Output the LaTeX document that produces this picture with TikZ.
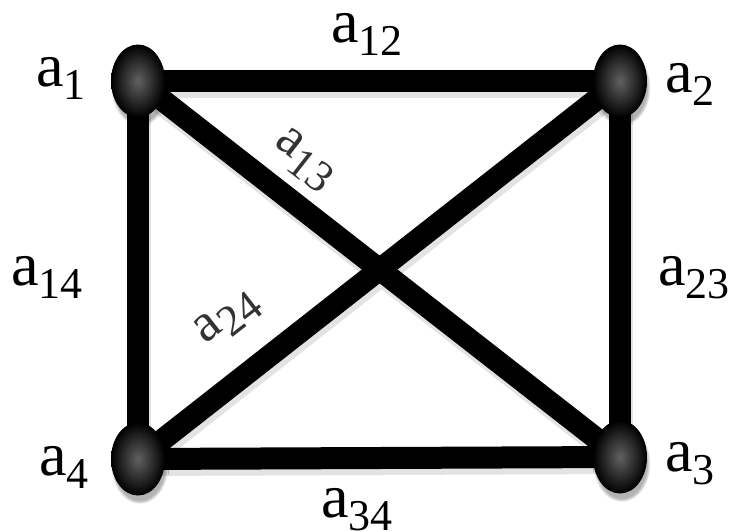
\documentclass[tikz,border=0pt]{standalone}
\usepackage{fontspec}
\setmainfont{Liberation Serif}
\usetikzlibrary{shapes.geometric, shadows.blur, backgrounds}
\tikzset{
  ballnode/.style={ellipse, minimum width=54pt, minimum height=73pt, inner sep=0pt,
    inner color=black!62, outer color=black,
    blur shadow={shadow xshift=2pt, shadow yshift=-7pt, shadow opacity=30}},
  edge/.style={line width=22pt, black},
  edgeshadow/.style={line width=22pt, gray!22, transform canvas={shift={(2pt,-6pt)}}},
  lab/.style={anchor=base west, inner sep=0pt, font=\fontsize{62}{66}\selectfont}
}
\newcommand{\sublab}[1]{a\raisebox{-0.22em}{\fontsize{44}{48}\selectfont #1}}
\begin{document}
\begin{tikzpicture}[x=1pt, y=-1pt]
  \useasboundingbox (0,0) rectangle (731,531);
  % vertices
  \foreach \n/\x/\y in {a1/138/81, a2/620/81, a3/620/457, a4/138/459}
    {\node[ballnode] (\n) at (\x,\y) {};}
  % edges behind the balls
  \begin{scope}[on background layer]
    \foreach \s/\t in {a1/a2, a2/a3, a3/a4, a4/a1, a1/a3, a2/a4}
      {\draw[edgeshadow] (\s.center) -- (\t.center);}
    \foreach \s/\t in {a1/a2, a2/a3, a3/a4, a4/a1, a1/a3, a2/a4}
      {\draw[edge] (\s.center) -- (\t.center);}
  \end{scope}
  % vertex labels
  \node[lab] (l1) at (36,86) {\sublab{1}};
  \node[lab] (l2) at (665,92) {\sublab{2}};
  \node[lab] (l3) at (665,471) {\sublab{3}};
  \node[lab] (l4) at (39,475) {\sublab{4}};
  % edge labels
  \node[lab] (l12) at (331,42) {\sublab{12}};
  \node[lab] (l14) at (11,285) {\sublab{14}};
  \node[lab] (l23) at (658,285) {\sublab{23}};
  \node[lab] (l34) at (321,517) {\sublab{34}};
  \node[inner sep=0pt, rotate=-38, text=black!80, font=\fontsize{54}{58}\selectfont] (l13) at (304,160) {\sublab{13}};
  \node[inner sep=0pt, rotate=38, text=black!80, font=\fontsize{54}{58}\selectfont] (l24) at (228,318) {\sublab{24}};
\end{tikzpicture}
\end{document}
